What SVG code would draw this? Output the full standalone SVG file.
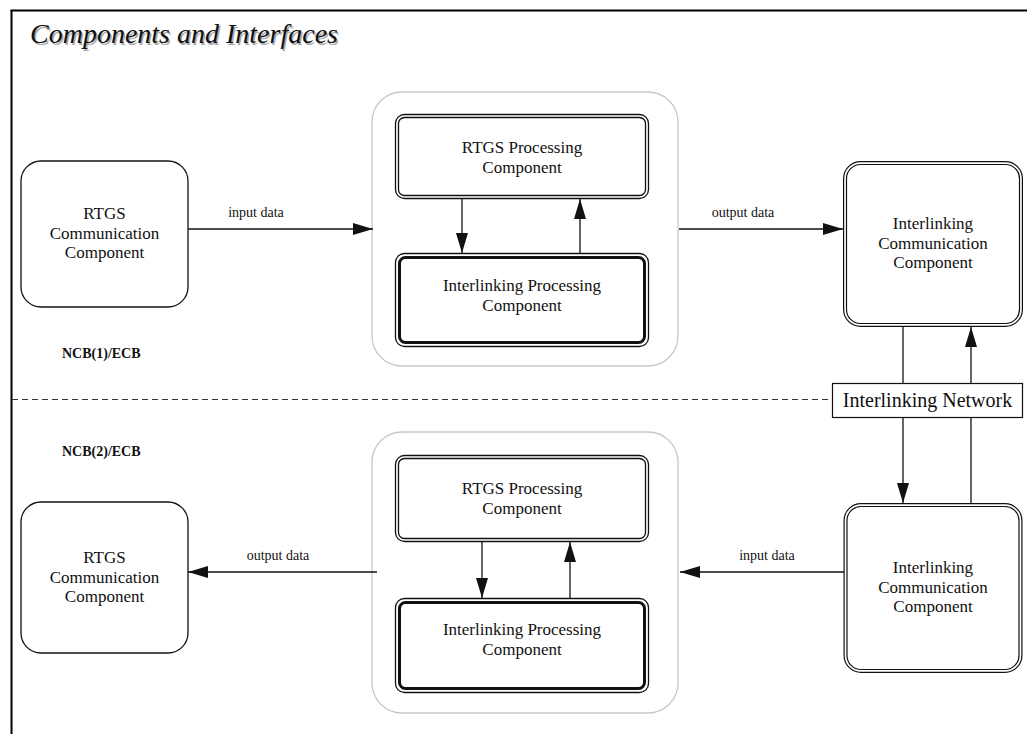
<svg xmlns="http://www.w3.org/2000/svg" width="1027" height="734" viewBox="0 0 1027 734">
<style>
  .t { font-family: "Liberation Serif", "Times New Roman", serif; fill: #111; text-anchor: middle; }
  .node { font-size: 17px; }
  .lbl { font-size: 14px; }
  .ncb { font-size: 14px; font-weight: bold; text-anchor: start; }
  .title { font-family: "Liberation Serif", "Times New Roman", serif; font-size: 28px; font-style: italic; }
  .rr { fill: none; stroke: #111; stroke-width: 1.3; }
  .cont { fill: none; stroke: #c8c8c8; stroke-width: 1.3; }
  .conn { stroke: #111; stroke-width: 1.3; fill: none; }
  .thin { fill: none; stroke: #111; stroke-width: 1.3; }
  .thick { fill: none; stroke: #111; stroke-width: 3; }
  .trio { fill: none; stroke: #111; stroke-width: 7; }
  .trim { fill: #fff; stroke: #fff; stroke-width: 4.6; }
  .tric { fill: none; stroke: #111; stroke-width: 1.2; }
</style>
<defs>
  <marker id="ah" markerUnits="userSpaceOnUse" markerWidth="20" markerHeight="12" refX="20" refY="6" orient="auto">
    <path d="M0,0 L20,6 L0,12 z" fill="#111"/>
  </marker>
</defs>
<rect x="0" y="0" width="1027" height="734" fill="#fff"/>
<g id="frame">
  <line x1="10.5" y1="10.5" x2="1027" y2="10.5" stroke="#000" stroke-width="2"/>
  <line x1="11.5" y1="10" x2="11.5" y2="734" stroke="#000" stroke-width="2"/>
  <text x="31.5" y="44.5" class="title" fill="#aaa">Components and Interfaces</text>
  <text x="30" y="43" class="title" fill="#111">Components and Interfaces</text>
  <line x1="12" y1="399.5" x2="832" y2="399.5" stroke="#333" stroke-width="1" stroke-dasharray="6,4"/>
  <text x="62" y="358" class="t ncb">NCB(1)/ECB</text>
  <text x="62" y="456" class="t ncb">NCB(2)/ECB</text>
</g>
<g id="top-rtgs-comm">
  <rect x="21" y="161" width="167" height="146" rx="20" class="rr"/>
  <text class="t node" x="104.5" y="219">RTGS</text>
  <text class="t node" x="104.5" y="238.5">Communication</text>
  <text class="t node" x="104.5" y="258">Component</text>
</g>
<g id="top-container">
  <rect x="372" y="92" width="306" height="274" rx="30" class="cont"/>
</g>
<g id="top-rtgs-proc">
  <rect x="395.5" y="114.5" width="253" height="84" rx="9" class="thin"/>
  <rect x="398.5" y="117.5" width="247" height="78" rx="6" class="thin"/>
  <text class="t node" x="522" y="153">RTGS Processing</text>
  <text class="t node" x="522" y="172.5">Component</text>
</g>
<g id="top-il-proc">
  <rect x="395.5" y="253.5" width="253" height="93" rx="9" class="thin"/>
  <rect x="399.5" y="257.5" width="245" height="85" rx="6" class="thick"/>
  <text class="t node" x="522" y="291">Interlinking Processing</text>
  <text class="t node" x="522" y="310.5">Component</text>
</g>
<g id="top-il-comm">
  <rect x="846.5" y="164.5" width="173" height="159" rx="14" class="trio"/>
  <rect x="846.5" y="164.5" width="173" height="159" rx="14" class="trim"/>
  <rect x="846.5" y="164.5" width="173" height="159" rx="14" class="tric"/>
  <text class="t node" x="933" y="229">Interlinking</text>
  <text class="t node" x="933" y="248.5">Communication</text>
  <text class="t node" x="933" y="268">Component</text>
</g>
<g id="network">
  <rect x="832.5" y="383.5" width="190" height="34" fill="#fff" stroke="#111" stroke-width="1.2"/>
  <text class="t" style="font-size:20px" x="927.5" y="407">Interlinking Network</text>
</g>
<g id="bottom-rtgs-comm">
  <rect x="21" y="502" width="167" height="151" rx="20" class="rr"/>
  <text class="t node" x="104.5" y="563">RTGS</text>
  <text class="t node" x="104.5" y="582.5">Communication</text>
  <text class="t node" x="104.5" y="602">Component</text>
</g>
<g id="bottom-container">
  <rect x="372" y="432" width="306" height="281" rx="30" class="cont"/>
</g>
<g id="bottom-rtgs-proc">
  <rect x="395.5" y="455.5" width="253" height="86" rx="9" class="thin"/>
  <rect x="398.5" y="458.5" width="247" height="80" rx="6" class="thin"/>
  <text class="t node" x="522" y="494">RTGS Processing</text>
  <text class="t node" x="522" y="513.5">Component</text>
</g>
<g id="bottom-il-proc">
  <rect x="395.5" y="598.5" width="253" height="94" rx="9" class="thin"/>
  <rect x="399.5" y="602.5" width="245" height="86" rx="6" class="thick"/>
  <text class="t node" x="522" y="635">Interlinking Processing</text>
  <text class="t node" x="522" y="654.5">Component</text>
</g>
<g id="bottom-il-comm">
  <rect x="847" y="506.5" width="172" height="163" rx="14" class="trio"/>
  <rect x="847" y="506.5" width="172" height="163" rx="14" class="trim"/>
  <rect x="847" y="506.5" width="172" height="163" rx="14" class="tric"/>
  <text class="t node" x="933" y="573">Interlinking</text>
  <text class="t node" x="933" y="592.5">Communication</text>
  <text class="t node" x="933" y="612">Component</text>
</g>
<g id="connectors">
  <line x1="188" y1="229" x2="373" y2="229" class="conn" marker-end="url(#ah)"/>
  <text class="t lbl" x="256" y="217">input data</text>
  <line x1="679" y1="229" x2="843" y2="229" class="conn" marker-end="url(#ah)"/>
  <text class="t lbl" x="743" y="217">output data</text>
  <line x1="462" y1="199" x2="462" y2="253" class="conn" marker-end="url(#ah)"/>
  <line x1="580" y1="253" x2="580" y2="199" class="conn" marker-end="url(#ah)"/>
  <line x1="903" y1="327" x2="903" y2="383" class="conn"/>
  <line x1="971" y1="383" x2="971" y2="327" class="conn" marker-end="url(#ah)"/>
  <line x1="903" y1="418" x2="903" y2="503" class="conn" marker-end="url(#ah)"/>
  <line x1="971" y1="503" x2="971" y2="418" class="conn"/>
  <line x1="844" y1="572" x2="680" y2="572" class="conn" marker-end="url(#ah)"/>
  <text class="t lbl" x="767" y="560">input data</text>
  <line x1="377" y1="572" x2="188" y2="572" class="conn" marker-end="url(#ah)"/>
  <text class="t lbl" x="278" y="560">output data</text>
  <line x1="482" y1="542" x2="482" y2="598" class="conn" marker-end="url(#ah)"/>
  <line x1="570" y1="598" x2="570" y2="542" class="conn" marker-end="url(#ah)"/>
</g>
</svg>
